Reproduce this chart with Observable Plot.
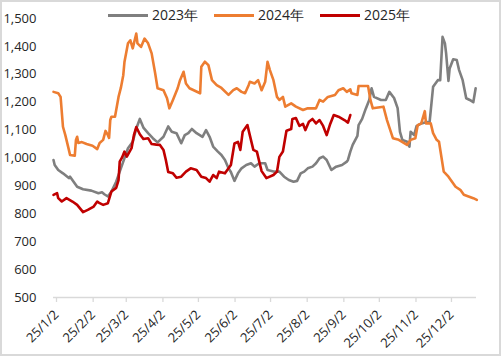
<!DOCTYPE html>
<html><head><meta charset="utf-8">
<script src="https://cdn.jsdelivr.net/npm/d3@7"></script>
<script src="https://cdn.jsdelivr.net/npm/@observablehq/plot@0.6"></script>
<style>
body{margin:0;background:#fff;}
#wrap{position:relative;width:501px;height:356px;font-family:"Open Sans",sans-serif;overflow:hidden;}
#chart svg{position:absolute;left:0;top:0;}
#frame{position:absolute;left:0;top:0;width:501px;height:356px;border:2px solid #d9d9d9;box-sizing:border-box;pointer-events:none;}
#legend{position:absolute;top:5px;left:108px;display:flex;gap:16px;font-size:14px;color:#262626;line-height:20px;}
.item{display:flex;align-items:center;}
.sw{width:40px;height:3px;margin-right:4px;}
</style></head>
<body><div id="wrap"><div id="chart"></div><div id="legend"></div><div id="frame"></div></div>
<script>
const seriesNames = ["2023年", "2024年", "2025年"];
const seriesColors = ["#7f7f7f", "#ED7D31", "#C00000"];

const dates2023 = ["01-02","01-03","01-06","01-10","01-15","01-16","01-19","01-22","01-27","02-03","02-09","02-12","02-14","02-17","02-20","02-24","02-27","03-02","03-06","03-10","03-13","03-16","03-19","03-23","03-27","03-31","04-05","04-09","04-12","04-16","04-20","04-23","04-26","04-29","05-03","05-08","05-11","05-14","05-17","05-21","05-24","05-27","05-30","06-01","06-04","06-07","06-10","06-14","06-18","06-21","06-25","06-30","07-02","07-08","07-12","07-16","07-20","07-24","07-27","07-30","08-02","08-05","08-09","08-12","08-15","08-18","08-21","08-25","08-29","09-03","09-07","09-08","09-10","09-12","09-16","09-17","09-20","09-23","09-26","09-28","09-30","10-06","10-10","10-13","10-17","10-20","10-22","10-24","10-28","10-30","10-31","11-03","11-05","11-09","11-14","11-16","11-19","11-23","11-25","11-27","11-29","11-30","12-02","12-03","12-06","12-09","12-11","12-14","12-17","12-20","12-23","12-25"];
const values2023 = [993,975,957,945,928,933,915,897,888,883,874,877,870,862,880,915,951,987,1035,1058,1106,1140,1109,1089,1071,1056,1076,1113,1094,1089,1053,1082,1089,1104,1089,1076,1100,1076,1041,1023,1011,993,963,950,918,945,963,975,981,969,981,981,957,951,951,933,921,915,918,945,951,963,969,981,999,1005,993,957,969,975,987,993,1023,1047,1079,1118,1140,1176,1208,1250,1219,1208,1208,1237,1215,1179,1094,1065,1058,1041,1094,1082,1114,1124,1129,1127,1255,1279,1279,1434,1411,1376,1276,1321,1354,1351,1315,1279,1214,1208,1200,1250];

const dates2024 = ["01-02","01-06","01-08","01-10","01-12","01-15","01-16","01-20","01-21","01-22","01-23","01-26","01-30","02-04","02-08","02-10","02-13","02-15","02-17","02-18","02-19","02-20","02-23","02-26","02-28","03-02","03-03","03-06","03-08","03-10","03-13","03-14","03-17","03-20","03-23","03-26","03-29","03-31","04-05","04-08","04-10","04-13","04-17","04-19","04-22","04-24","04-27","05-06","05-07","05-10","05-13","05-16","05-20","05-24","05-30","06-03","06-06","06-10","06-13","06-16","06-17","06-21","06-24","06-27","06-30","07-02","07-04","07-07","07-10","07-12","07-15","07-17","07-22","07-26","08-01","08-05","08-12","08-15","08-18","08-22","08-28","08-31","09-04","09-07","09-10","09-11","09-16","09-17","09-25","09-27","09-29","10-08","10-11","10-16","10-21","10-28","10-31","11-04","11-06","11-09","11-12","11-13","11-17","11-19","11-22","11-24","11-28","12-02","12-05","12-08","12-12","12-15","12-19","12-23","12-26"];
const values2024 = [1237,1232,1219,1112,1082,1029,1011,1008,1065,1076,1054,1057,1050,1044,1032,1054,1065,1097,1082,1072,1136,1148,1148,1219,1252,1297,1344,1411,1422,1393,1446,1411,1398,1428,1411,1375,1303,1250,1243,1214,1178,1208,1250,1279,1309,1267,1250,1232,1327,1345,1333,1279,1261,1251,1226,1243,1250,1237,1232,1261,1273,1267,1279,1243,1273,1345,1315,1279,1219,1208,1219,1184,1196,1184,1172,1178,1178,1208,1202,1219,1226,1243,1250,1237,1246,1232,1226,1258,1258,1208,1178,1184,1136,1071,1065,1047,1065,1071,1118,1124,1168,1124,1124,1089,1065,1058,951,933,915,897,886,868,862,856,850];

const dates2025 = ["01-02","01-05","01-06","01-09","01-13","01-18","01-22","01-27","01-31","02-05","02-08","02-10","02-13","02-17","02-20","02-24","02-26","02-27","03-01","03-03","03-05","03-09","03-11","03-13","03-16","03-19","03-23","03-26","03-30","04-02","04-05","04-07","04-09","04-13","04-16","04-20","04-24","04-28","05-03","05-07","05-11","05-14","05-17","05-20","05-22","05-27","05-30","06-01","06-04","06-07","06-09","06-11","06-15","06-17","06-20","06-23","06-25","06-27","07-01","07-07","07-10","07-12","07-15","07-18","07-22","07-23","07-26","07-29","08-01","08-03","08-06","08-09","08-12","08-15","08-18","08-21","08-24","08-27","08-31","09-05","09-08","09-10"];
const values2025 = [868,874,856,844,856,844,832,806,814,826,844,838,832,838,880,893,921,987,1002,1023,1005,1035,1082,1111,1085,1068,1071,1050,1048,1047,1029,993,950,945,929,933,951,963,957,933,928,915,939,928,951,945,963,975,1052,1058,1029,1094,1118,1082,1029,1023,987,953,928,939,951,1004,1023,1098,1104,1140,1143,1115,1122,1100,1130,1140,1124,1136,1115,1082,1122,1154,1148,1136,1127,1154];

const xTickDates = ["01-02","02-02","03-02","04-02","05-02","06-02","07-02","08-02","09-02","10-02","11-02","12-02"];
const yTicks = [500,600,700,800,900,1000,1100,1200,1300,1400,1500];

const parse = s => new Date(`2025-${s}T00:00:00Z`);
const rows = (dates, vals, series) => dates.map((d, i) => ({date: parse(d), value: vals[i], series}));
const data = [
  ...rows(dates2023, values2023, seriesNames[0]),
  ...rows(dates2024, values2024, seriesNames[1]),
  ...rows(dates2025, values2025, seriesNames[2])
];

const chart = Plot.plot({
  width: 501, height: 356,
  marginLeft: 53, marginRight: 25, marginTop: 18, marginBottom: 59,
  style: {fontFamily: "Open Sans, sans-serif", fontSize: "13px", color: "#262626", background: "transparent"},
  x: {type: "utc", domain: [parse("01-02"), new Date(Date.UTC(2025, 11, 25, 17))]},
  y: {domain: [500, 1500]},
  color: {domain: seriesNames, range: seriesColors},
  marks: [
    Plot.axisY(yTicks, {tickSize: 0, tickPadding: 17, tickFormat: d3.format(","), label: null, fontSize: 13}),
    Plot.axisX(xTickDates.map(parse), {tickSize: 5, stroke: "#d9d9d9", fill: "#262626", strokeWidth: 1.3, tickRotate: -45, tickPadding: 10, dx: 3, tickFormat: d => `25/${d.getUTCMonth()+1}/${d.getUTCDate()}`, label: null, fontSize: 13}),
    Plot.ruleY([500], {stroke: "#d9d9d9", strokeWidth: 1.5}),
    Plot.line(data, {x: "date", y: "value", z: "series", stroke: "series", strokeWidth: 2.6, strokeLinejoin: "round"})
  ]
});
document.getElementById("chart").appendChild(chart);

const legend = document.getElementById("legend");
seriesNames.forEach((name, i) => {
  const item = document.createElement("div");
  item.className = "item";
  const sw = document.createElement("div");
  sw.className = "sw";
  sw.style.background = seriesColors[i];
  const label = document.createElement("span");
  label.textContent = name;
  item.appendChild(sw);
  item.appendChild(label);
  legend.appendChild(item);
});
</script>
</body></html>
